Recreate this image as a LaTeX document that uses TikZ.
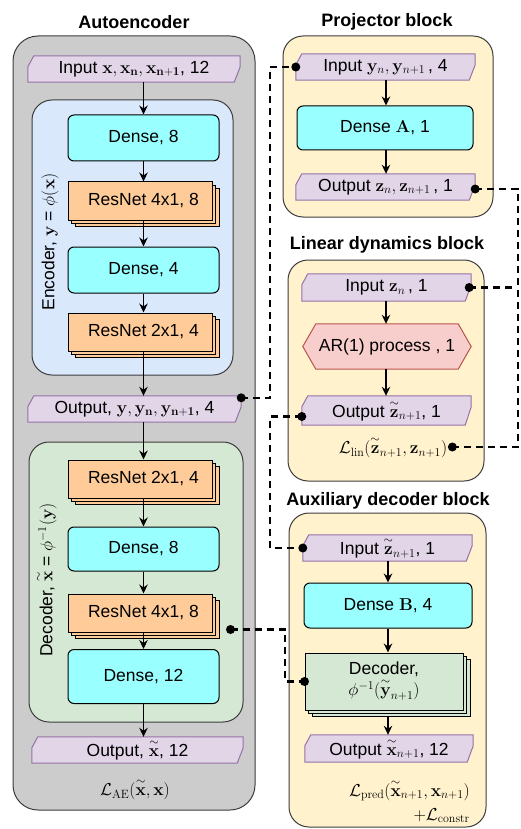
\documentclass[tikz,border=0pt]{standalone}
\usepackage{amsmath}
\usepackage[no-math]{fontspec}
\setmainfont{Liberation Sans}
\DeclareMathSizes{17.5}{18.8}{13.2}{9.5}
\usetikzlibrary{arrows.meta,shadows,calc}
\pgfdeclarelayer{back}
\pgfdeclarelayer{iolayer}
\pgfsetlayers{back,iolayer,main}
\definecolor{aegray}{HTML}{CCCCCC}
\definecolor{encblue}{HTML}{DAE8FC}
\definecolor{decgreen}{HTML}{D5E8D4}
\definecolor{blockyellow}{HTML}{FFF2CC}
\definecolor{densecyan}{HTML}{99FFFF}
\definecolor{resorange}{HTML}{FFCC99}
\definecolor{iofillc}{HTML}{E1D5E7}
\definecolor{iodrawc}{HTML}{9673A6}
\definecolor{arfill}{HTML}{F8CECC}
\definecolor{ardraw}{HTML}{B85450}
\definecolor{edgegray}{HTML}{3C3C3C}
\newcommand\wtil[1]{\overset{\sim}{#1}}
\newcommand\ioshape[1]{%
  \begin{pgfonlayer}{iolayer}
    \filldraw[fill=iofillc,draw=iodrawc,line width=1pt]
      ([xshift=6pt]#1.north west) -- (#1.north east) -- ([yshift=-11pt]#1.north east)
      -- ([xshift=-6pt]#1.south east) -- (#1.south west) -- ([yshift=-11pt]#1.north west) -- cycle;
  \end{pgfonlayer}}
\newcommand\hexshape[1]{%
  \begin{pgfonlayer}{iolayer}
    \filldraw[fill=arfill,draw=ardraw,line width=1pt]
      (#1.west) -- ([xshift=13pt]#1.north west) -- ([xshift=-13pt]#1.north east)
      -- (#1.east) -- ([xshift=-13pt]#1.south east) -- ([xshift=13pt]#1.south west) -- cycle;
  \end{pgfonlayer}}
\tikzset{
  every node/.style={font=\fontsize{17.5}{24}\selectfont},
  titlelab/.style={font=\fontsize{18}{22}\selectfont\bfseries},
  container/.style={draw=edgegray, line width=1pt, inner sep=0pt, rounded corners=20pt},
  densebox/.style={draw=black, fill=densecyan, rounded corners=6pt, line width=1pt,
    minimum width=151pt, minimum height=46pt, inner sep=0pt},
  stackbox/.style={draw=black, fill=#1, line width=1pt, inner sep=0pt,
    general shadow={shadow xshift=7pt, shadow yshift=-6pt, fill=#1, draw=black, line width=1pt},
    general shadow={shadow xshift=3.5pt, shadow yshift=-3pt, fill=#1, draw=black, line width=1pt}},
  resbox/.style={stackbox=resorange, minimum width=144pt, minimum height=38pt},
  iobox/.style={minimum height=26pt, inner sep=0pt},
  arbox/.style={minimum width=168pt, minimum height=45pt, inner sep=0pt},
  dot/.style={circle, fill=black, inner sep=0pt, minimum size=9pt},
  link/.style={line width=2.2pt, dash pattern=on 7pt off 5pt},
  arr/.style={-{Stealth[length=9pt,width=8.5pt]}, line width=1.1pt},
}
\begin{document}
\begin{tikzpicture}[x=1pt,y=-1pt]
\useasboundingbox (0,0) rectangle (520,829);

% containers
\begin{pgfonlayer}{back}
\node[container, fill=aegray, rounded corners=25pt, minimum width=242pt, minimum height=774pt] (ae) at (134,423) {};
\node[container, fill=encblue, minimum width=201pt, minimum height=275pt] (enc) at (132.5,237.5) {};
\node[container, fill=decgreen, minimum width=214pt, minimum height=280pt] (dec) at (136,582) {};
\node[container, fill=blockyellow, minimum width=210pt, minimum height=181pt] (proj) at (388,126.5) {};
\node[container, fill=blockyellow, minimum width=196pt, minimum height=221pt] (lin) at (386,370.5) {};
\node[container, fill=blockyellow, minimum width=197pt, minimum height=314pt] (aux) at (387.5,670) {};
\end{pgfonlayer}

% titles
\node[titlelab] (tae) at (134,22) {Autoencoder};
\node[titlelab] (tproj) at (387,22) {Projector block};
\node[titlelab] (tlin) at (387,245) {Linear dynamics block};
\node[titlelab] (taux) at (388,501) {Auxiliary decoder block};

% autoencoder
\node[iobox, minimum width=212pt] (aein) at (134,69) {Input $\mathbf{x},\mathbf{x_n},\mathbf{x_{n+1}}$, 12};
\ioshape{aein}
\node[densebox] (d8) at (143.5,138) {Dense, 8};
\node[resbox] (r48) at (140,201) {\hspace*{7pt}ResNet 4x1, 8};
\node[densebox] (d4) at (143.5,270) {Dense, 4};
\node[resbox] (r24) at (140,332) {\hspace*{7pt}ResNet 2x1, 4};
\node[iobox, minimum width=213pt] (aeout) at (134.5,409) {Output, $\mathbf{y},\mathbf{y_n},\mathbf{y_{n+1}}$, 4};
\ioshape{aeout}
\node[resbox] (r24d) at (140,479) {\hspace*{7pt}ResNet 2x1, 4};
\node[densebox, minimum height=44pt] (d8d) at (143.5,549) {Dense, 8};
\node[resbox] (r48d) at (140,613) {\hspace*{7pt}ResNet 4x1, 8};
\node[densebox, minimum height=54pt] (d12) at (143.5,676.5) {Dense, 12};
\node[iobox, minimum width=211pt] (aeoutx) at (137.5,750) {Output, $\wtil{\mathbf{x}}$, 12};
\ioshape{aeoutx}
\node (lae) at (135,789) {$\mathcal{L}_{\mathrm{AE}}(\wtil{\mathbf{x}},\mathbf{x})$};
\node[rotate=90] (enclab) at (50,242) {Encoder, $\mathbf{y}$ = $\phi(\mathbf{x})$};
\node[rotate=90] (declab) at (46,580) {Decoder, $\wtil{\mathbf{x}}$ = $\phi^{-1}(\mathbf{y})$};

\coordinate (ax) at (143.5,0);
\draw[arr] (aein.south -| ax) -- (d8.north);
\draw[arr] (d8.south) -- (r48.north -| ax);
\draw[arr] (r48.south -| ax) -- (d4.north);
\draw[arr] (d4.south) -- (r24.north -| ax);
\draw[arr] (r24.south -| ax) -- (aeout.north -| ax);
\draw[arr] (aeout.south -| ax) -- (r24d.north -| ax);
\draw[arr] (r24d.south -| ax) -- (d8d.north);
\draw[arr] (d8d.south) -- (r48d.north -| ax);
\draw[arr] (r48d.south -| ax) -- (d12.north);
\draw[arr] (d12.south) -- (aeoutx.north -| ax);

% projector block
\node[iobox, minimum width=179pt] (projin) at (385.5,67) {Input $\mathbf{y}_n,\mathbf{y}_{n+1}$\,, 4};
\ioshape{projin}
\node[densebox, minimum width=176pt, minimum height=44pt] (denA) at (385,128) {Dense $\mathbf{A}$, 1};
\node[iobox, minimum width=179pt] (projout) at (385.5,187) {Output $\mathbf{z}_n,\mathbf{z}_{n+1}$\,, 1};
\ioshape{projout}
\coordinate (px) at (386,0);
\draw[arr] (projin.south -| px) -- (denA.north -| px);
\draw[arr] (denA.south -| px) -- (projout.north -| px);

% linear dynamics block
\node[iobox, minimum width=169pt, minimum height=27pt] (linin) at (386.5,287.5) {Input $\mathbf{z}_n$\,, 1};
\ioshape{linin}
\node[arbox] (ar) at (387,346.5) {AR(1) process , 1};
\hexshape{ar}
\node[iobox, minimum width=169pt, minimum height=29pt] (linout) at (386.5,410.5) {Output $\wtil{\mathbf{z}}_{n+1}$, 1};
\ioshape{linout}
\node[inner sep=0pt] (llin) at (393,447) {$\mathcal{L}_{\mathrm{lin}}(\wtil{\mathbf{z}}_{n+1},\mathbf{z}_{n+1})$};
\coordinate (lx) at (386,0);
\draw[arr] (linin.south -| lx) -- (ar.north -| lx);
\draw[arr] (ar.south -| lx) -- (linout.north -| lx);

% auxiliary decoder block
\node[iobox, minimum width=169pt] (auxin) at (387.5,548) {Input $\wtil{\mathbf{z}}_{n+1}$, 1};
\ioshape{auxin}
\node[densebox, minimum width=168pt, minimum height=45pt] (denB) at (388,605.5) {Dense $\mathbf{B}$, 4};
\node[stackbox=decgreen, minimum width=158pt, minimum height=57pt, align=center] (auxdec) at (384,681.5) {Decoder,\\[-3pt]$\phi^{-1}(\wtil{\mathbf{y}}_{n+1})$};
\node[iobox, minimum width=168pt, minimum height=27pt] (auxout) at (389,748.5) {Output $\wtil{\mathbf{x}}_{n+1}$, 12};
\ioshape{auxout}
\node[align=right, anchor=east, inner sep=0pt] (lpred) at (470,801) {$\mathcal{L}_{\mathrm{pred}}(\wtil{\mathbf{x}}_{n+1},\mathbf{x}_{n+1})$\\$+\mathcal{L}_{\mathrm{constr}}$};
\coordinate (xx) at (388,0);
\draw[arr] (auxin.south -| xx) -- (denB.north -| xx);
\draw[arr] (denB.south -| xx) -- (auxdec.north -| xx);
\draw[arr] (auxdec.south -| xx) ++(0,6) -- (auxout.north -| xx);

% dashed connectors
\coordinate (cl) at (270,0);
\coordinate (cl2) at (267,0);
\coordinate (cr) at (518,0);
\draw[link] ([yshift=-2pt]aeout.north east) -- ([yshift=-2pt]aeout.north east -| cl) |- (projin.west);
\draw[link] ([yshift=-6pt]linout.west) -- ([yshift=-6pt]linout.west -| cl) |- (auxin.west);
\draw[link] ([xshift=18pt,yshift=3pt]r48d.south east) -- ([xshift=18pt,yshift=3pt]r48d.south east -| cl2) |- (auxdec.west);
\draw[link] ([yshift=-2pt]projout.east) -- ([yshift=-2pt]projout.east -| cr) |- ([xshift=5pt]llin.east);
\draw[link] ([xshift=-2pt]linin.east) -- ([xshift=-2pt]linin.east -| cr);

% dots
\node[dot] (p1) at ([yshift=-2pt]aeout.north east) {};
\node[dot] (p2) at (projin.west) {};
\node[dot] (p3) at ([yshift=-6pt]linout.west) {};
\node[dot] (p4) at (auxin.west) {};
\node[dot] (p5) at ([xshift=18pt,yshift=3pt]r48d.south east) {};
\node[dot] (p6) at (auxdec.west) {};
\node[dot] (p7) at ([yshift=-2pt]projout.east) {};
\node[dot] (p8) at ([xshift=5pt]llin.east) {};
\node[dot] (p9) at ([xshift=-2pt]linin.east) {};
\end{tikzpicture}
\end{document}
